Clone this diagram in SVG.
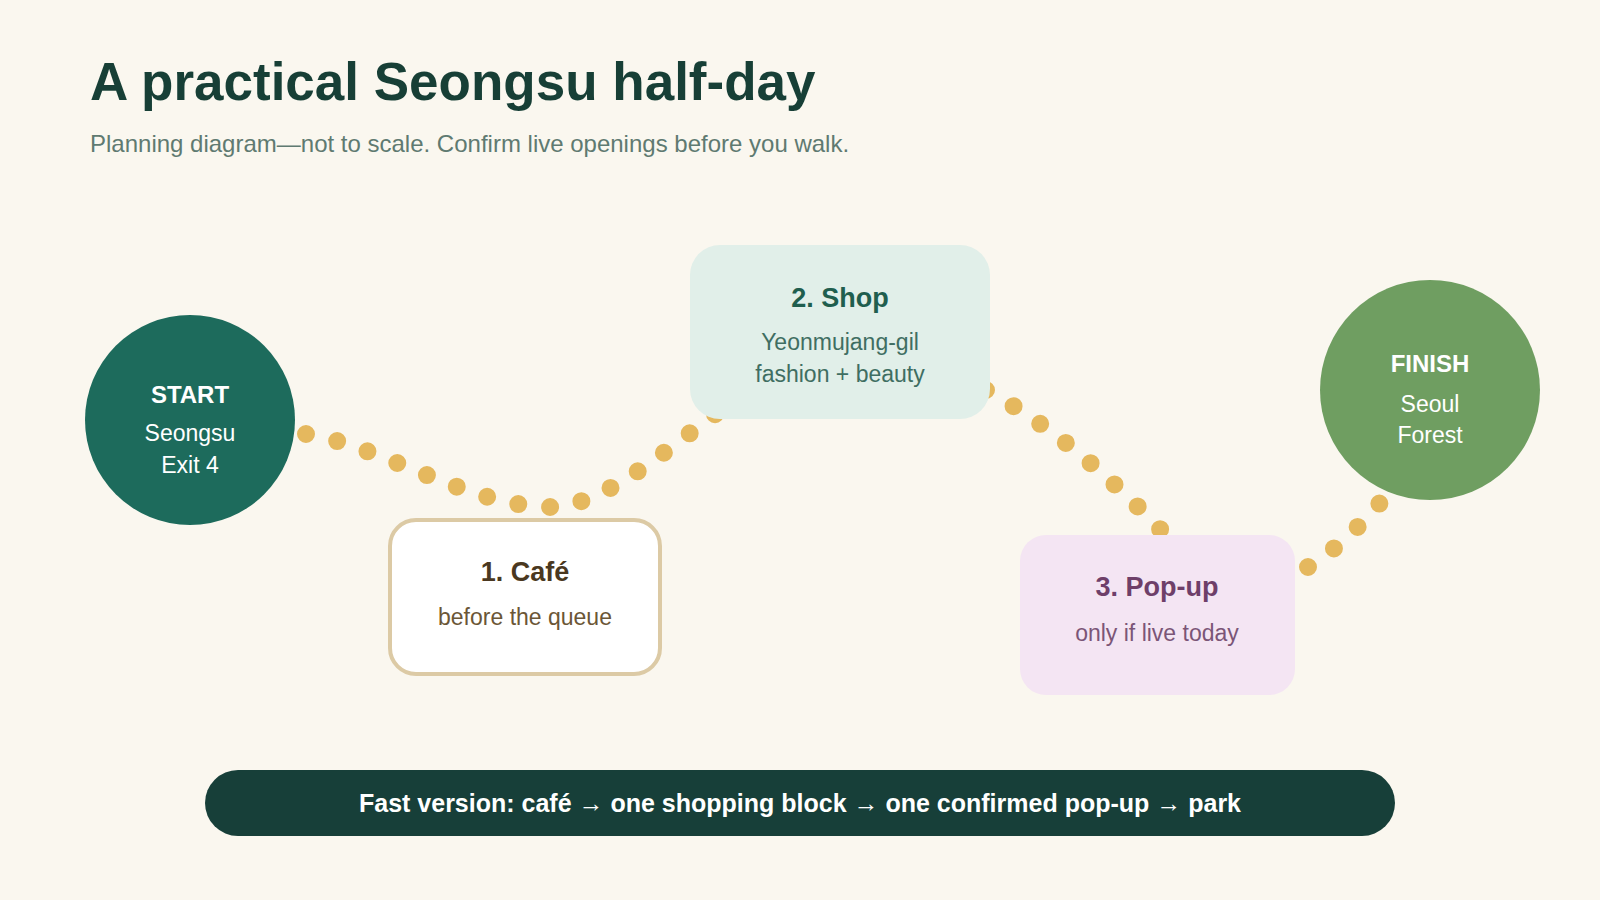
<svg xmlns="http://www.w3.org/2000/svg" width="1600" height="900" viewBox="0 0 1600 900">
  <style>
    text { font-family: "Liberation Sans", Arial, sans-serif; text-anchor: middle; }
    .title { font-size: 53px; font-weight: bold; fill: #173f36; text-anchor: start; }
    .sub { font-size: 24px; fill: #5f7a71; text-anchor: start; }
    .route { fill: none; stroke: #e5b85e; stroke-width: 18; stroke-linecap: round; stroke-dasharray: 0 32; }
    .h { font-size: 27px; font-weight: bold; }
    .b { font-size: 23px; }
    .ch { font-size: 24px; font-weight: bold; fill: #ffffff; }
    .cb { font-size: 23px; fill: #ffffff; }
  </style>
  <rect width="1600" height="900" fill="#faf7ef"/>
  <text class="title" x="90" y="100">A practical Seongsu half-day</text>
  <text class="sub" x="90" y="152">Planning diagram—not to scale. Confirm live openings before you walk.</text>

  <g id="connectors">
    <path class="route" d="M 306 434 C 380 445 470 507 550 507 C 600 507 660 455 714 415 L 740 395"/>
    <path class="route" d="M 986 390 C 1050 425 1110 475 1175 545"/>
    <path class="route" d="M 1308 567 C 1335 550 1360 528 1395 485"/>
  </g>

  <g id="start">
    <circle cx="190" cy="420" r="105" fill="#1d6b5c"/>
    <text class="ch" x="190" y="403">START</text>
    <text class="cb" x="190" y="441">Seongsu</text>
    <text class="cb" x="190" y="473">Exit 4</text>
  </g>

  <g id="cafe">
    <rect x="390" y="520" width="270" height="154" rx="26" fill="#ffffff" stroke="#dccaa5" stroke-width="4"/>
    <text class="h" x="525" y="581" fill="#4a3820">1. Café</text>
    <text class="b" x="525" y="625" fill="#6b5636">before the queue</text>
  </g>

  <g id="shop">
    <rect x="690" y="245" width="300" height="174" rx="30" fill="#e1efe9"/>
    <text class="h" x="840" y="307" fill="#1f5e4e">2. Shop</text>
    <text class="b" x="840" y="350" fill="#3f6e62">Yeonmujang-gil</text>
    <text class="b" x="840" y="382" fill="#3f6e62">fashion + beauty</text>
  </g>

  <g id="popup">
    <rect x="1020" y="535" width="275" height="160" rx="26" fill="#f4e5f3"/>
    <text class="h" x="1157" y="596" fill="#6e3f69">3. Pop-up</text>
    <text class="b" x="1157" y="641" fill="#7b5577">only if live today</text>
  </g>

  <g id="finish">
    <circle cx="1430" cy="390" r="110" fill="#6f9e61"/>
    <text class="ch" x="1430" y="372">FINISH</text>
    <text class="cb" x="1430" y="412">Seoul</text>
    <text class="cb" x="1430" y="443">Forest</text>
  </g>

  <g id="summary">
    <rect x="205" y="770" width="1190" height="66" rx="33" fill="#173f39"/>
    <text x="800" y="812" font-size="25" font-weight="bold" fill="#ffffff">Fast version: café → one shopping block → one confirmed pop-up → park</text>
  </g>
</svg>
